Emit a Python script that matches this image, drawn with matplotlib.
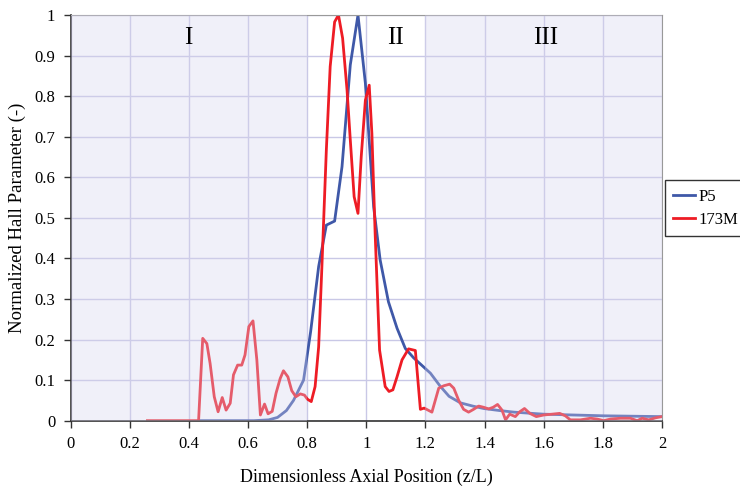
import matplotlib
matplotlib.use("Agg")
import matplotlib.pyplot as plt
from matplotlib.ticker import MultipleLocator, FuncFormatter

plt.rcParams['font.family'] = ['Liberation Serif', 'DejaVu Serif']

p5_x = [0.44, 0.50, 0.56, 0.62, 0.67, 0.70, 0.73, 0.754, 0.788, 0.812, 0.839, 0.865, 0.893, 0.918,
        0.946, 0.972, 0.997, 1.025, 1.047, 1.075, 1.104, 1.132, 1.16, 1.19, 1.217, 1.25, 1.28,
        1.318, 1.36, 1.397, 1.45, 1.5, 1.6, 1.7, 1.803, 1.9, 2.0]
p5_y = [0.0, 0.0, 0.0, 0.0, 0.002, 0.008, 0.025, 0.05, 0.10, 0.22, 0.38, 0.482, 0.492, 0.626,
        0.877, 1.0, 0.832, 0.527, 0.396, 0.293, 0.228, 0.178, 0.155, 0.135, 0.117, 0.085, 0.06,
        0.044, 0.036, 0.03, 0.025, 0.021, 0.016, 0.014, 0.012, 0.011, 0.01]

m173_x = [0.26, 0.433, 0.447, 0.461, 0.472, 0.486, 0.499, 0.513, 0.526, 0.54, 0.551, 0.565, 0.579,
          0.59, 0.603, 0.617, 0.63, 0.642, 0.656, 0.668, 0.682, 0.695, 0.709, 0.72, 0.735, 0.748,
          0.762, 0.777, 0.791, 0.801, 0.814, 0.827, 0.839, 0.85, 0.865, 0.878, 0.893, 0.906, 0.92,
          0.935, 0.946, 0.959, 0.972, 0.983, 0.997, 1.01, 1.019, 1.03, 1.045, 1.064, 1.077, 1.09,
          1.104, 1.121, 1.143, 1.166, 1.183, 1.196, 1.222, 1.245, 1.262, 1.282, 1.296, 1.312,
          1.329, 1.346, 1.363, 1.38, 1.397, 1.414, 1.429, 1.444, 1.459, 1.471, 1.485, 1.504,
          1.519, 1.535, 1.553, 1.575, 1.6, 1.628, 1.654, 1.673, 1.69, 1.724, 1.758, 1.781, 1.803,
          1.826, 1.86, 1.893, 1.916, 1.933, 1.955, 1.978, 2.0]
m173_y = [0, 0, 0.203, 0.19, 0.141, 0.059, 0.022, 0.057, 0.026, 0.043, 0.113, 0.137, 0.137,
          0.162, 0.232, 0.246, 0.15, 0.014, 0.041, 0.017, 0.023, 0.068, 0.104, 0.123, 0.108, 0.074,
          0.059, 0.066, 0.063, 0.053, 0.047, 0.084, 0.182, 0.38, 0.667, 0.873, 0.983, 1.0, 0.943,
          0.815, 0.692, 0.552, 0.511, 0.651, 0.79, 0.827, 0.708, 0.462, 0.174, 0.084, 0.072, 0.076,
          0.108, 0.15, 0.177, 0.173, 0.028, 0.031, 0.021, 0.08, 0.086, 0.09, 0.08, 0.051,
          0.028, 0.021, 0.028, 0.036, 0.033, 0.029, 0.033, 0.04, 0.026, 0.002, 0.016, 0.01,
          0.022, 0.03, 0.018, 0.01, 0.014, 0.016, 0.018, 0.012, 0.002, 0.002, 0.006, 0.004, 0,
          0.004, 0.006, 0.006, 0, 0.006, 0.002, 0.007, 0.01]

regions = [(0.0, 0.8), (1.2, 2.0)]
region_labels = ["I", "II", "III"]
region_label_x = [0.398, 1.098, 1.606]

fig = plt.figure(figsize=(7.4, 4.87), dpi=100)
ax = fig.add_axes([0.0953, 0.1362, 0.7993, 0.833])

ax.plot(p5_x, p5_y, color='#3f58a8', lw=2.0, label='P5', zorder=2)
ax.plot(m173_x, m173_y, color='#ee1c25', lw=2.0, label='173M', zorder=2)

for a, b in regions:
    ax.axvspan(a, b, color='#d6d4ee', alpha=0.35, lw=0, zorder=3)

for lab, xx in zip(region_labels, region_label_x):
    ax.text(xx, 0.944, lab, fontsize=18, ha='center', va='center', zorder=4)

ax.set_xlim(0, 2)
ax.set_ylim(0, 1)
ax.xaxis.set_major_locator(MultipleLocator(0.2))
ax.yaxis.set_major_locator(MultipleLocator(0.1))
fmt = FuncFormatter(lambda v, p: ('%g' % round(v, 2)))
ax.xaxis.set_major_formatter(fmt)
ax.yaxis.set_major_formatter(fmt)
ax.grid(True, color='#c9c8e6', lw=1.0, zorder=0)
ax.set_axisbelow(True)

for s in ['top', 'right']:
    ax.spines[s].set_color('#999999')
for s in ['left', 'bottom']:
    ax.spines[s].set_color('#333333')
    ax.spines[s].set_linewidth(1.2)
ax.tick_params(axis='both', direction='out', length=5, width=1, labelsize=12, pad=6, color='#333333')
ax.tick_params(axis='x', pad=6)

ax.set_xlabel('Dimensionless Axial Position (z/L)', fontsize=13, labelpad=12)
ax.set_ylabel('Normalized Hall Parameter (-)', fontsize=13.5, labelpad=6)

leg = fig.legend(loc='upper left', bbox_to_anchor=(0.898, 0.63), fontsize=12, frameon=True,
                 fancybox=False, edgecolor='black', handlelength=1.3, handletextpad=0.25,
                 borderpad=0.5, labelspacing=0.45, borderaxespad=0)
leg.get_frame().set_linewidth(1.0)

fig.savefig('out.png', dpi=100)
